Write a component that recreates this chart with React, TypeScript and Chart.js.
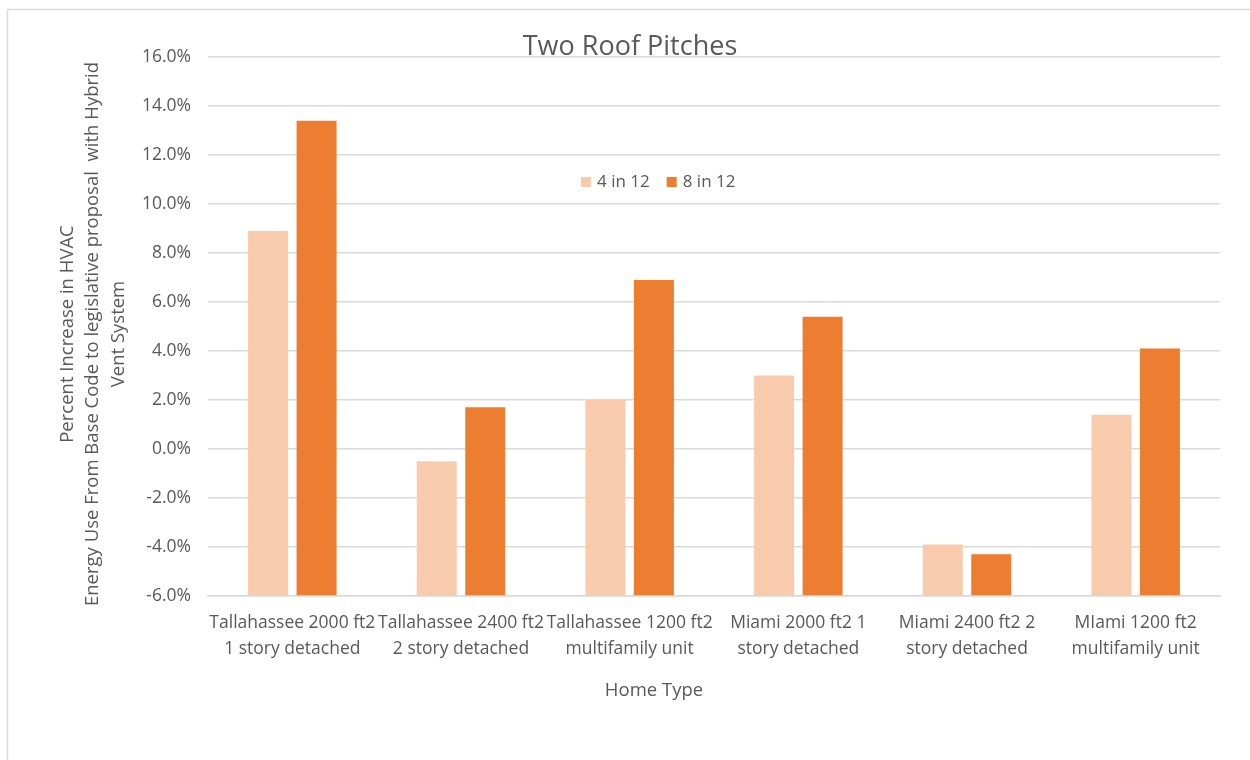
import { useEffect, useRef } from "react";
import { Chart, registerables } from "chart.js";

Chart.register(...registerables);

// Home types (two-line category labels)
const categories: string[][] = [
  ["Tallahassee 2000 ft2", "1 story detached"],
  ["Tallahassee 2400 ft2", "2 story detached"],
  ["Tallahassee 1200 ft2", "multifamily unit"],
  ["Miami 2000 ft2 1", "story detached"],
  ["Miami 2400 ft2 2", "story detached"],
  ["MIami 1200 ft2", "multifamily unit"],
];

const seriesNames = ["4 in 12", "8 in 12"];

// Percent increase in HVAC energy use, per roof pitch
const pitch4in12 = [8.9, -0.5, 2.0, 3.0, -3.9, 1.4];
const pitch8in12 = [13.4, 1.7, 6.9, 5.4, -4.3, 4.1];

// Value axis range (percent); the category axis crosses at the minimum
const yMin = -6;
const yMax = 16;
const yStep = 2;

const chartTitle = "Two Roof Pitches";
const xAxisTitle = "Home Type";
const yAxisTitle = [
  "Percent Increase in HVAC",
  "Energy Use From Base Code to legislative proposal  with Hybrid",
  "Vent System",
];

const FONT = "'Open Sans', 'DejaVu Sans', sans-serif";
const TEXT = "#595959";
const GRID = "#d9d9d9";
const COLORS = ["#F8CBAD", "#ED7D31"];

// Draws the outer frame, title, in-plot legend and axis titles
const decorations = {
  id: "decorations",
  beforeDraw(chart: Chart) {
    const { ctx, width, height } = chart;
    ctx.save();
    ctx.fillStyle = "#ffffff";
    ctx.fillRect(0, 0, width, height);
    ctx.strokeStyle = GRID;
    ctx.lineWidth = 1.5;
    ctx.strokeRect(7.5, 9.5, width + 20, height + 20);
    ctx.restore();
  },
  afterDraw(chart: Chart) {
    const { ctx } = chart;
    ctx.save();
    ctx.fillStyle = TEXT;
    ctx.textBaseline = "middle";

    // chart title
    ctx.textAlign = "center";
    ctx.font = `27px ${FONT}`;
    ctx.fillText(chartTitle, 630, 47);

    // x axis title
    ctx.font = `18.5px ${FONT}`;
    ctx.fillText(xAxisTitle, 654, 691);

    // y axis title (rotated, three lines)
    ctx.save();
    ctx.translate(93, 334);
    ctx.rotate(-Math.PI / 2);
    ctx.font = `18.5px ${FONT}`;
    yAxisTitle.forEach((line, i) => {
      ctx.fillText(line, 0, (i - 1) * 25.5);
    });
    ctx.restore();

    // legend
    ctx.font = `17px ${FONT}`;
    ctx.textAlign = "left";
    let x = 581;
    const cy = 182;
    chart.data.datasets.forEach((ds: any) => {
      ctx.fillStyle = ds.backgroundColor;
      ctx.fillRect(x, cy - 5, 10, 10);
      ctx.fillStyle = TEXT;
      ctx.fillText(ds.label, x + 16, cy);
      x += 16 + ctx.measureText(ds.label).width + 17;
    });
    ctx.restore();
  },
};

export default function App() {
  const canvasRef = useRef<HTMLCanvasElement>(null);

  useEffect(() => {
    if (!canvasRef.current) return;
    const chart = new Chart(canvasRef.current, {
      type: "bar",
      data: {
        labels: categories,
        datasets: [
          {
            label: seriesNames[0],
            data: pitch4in12,
            backgroundColor: COLORS[0],
            base: yMin,
          },
          {
            label: seriesNames[1],
            data: pitch8in12,
            backgroundColor: COLORS[1],
            base: yMin,
          },
        ],
      } as any,
      options: {
        responsive: false,
        animation: false,
        events: [],
        layout: { padding: { top: 57, right: 30, bottom: 0, left: 0 } },
        datasets: {
          bar: { categoryPercentage: 0.575, barPercentage: 0.825 },
        },
        plugins: {
          legend: { display: false },
          title: { display: false },
          tooltip: { enabled: false },
        },
        scales: {
          x: {
            grid: { display: false, drawTicks: false },
            border: { display: true, color: GRID, width: 1.5 },
            ticks: {
              color: TEXT,
              font: { family: FONT, size: 17.5, lineHeight: 1.5 },
              padding: 14,
              autoSkip: false,
              maxRotation: 0,
              minRotation: 0,
            },
            afterFit: (s: any) => {
              s.height = 164;
            },
          },
          y: {
            min: yMin,
            max: yMax,
            grid: { color: GRID, lineWidth: 1.5, drawTicks: false },
            border: { display: false },
            ticks: {
              stepSize: yStep,
              color: TEXT,
              font: { family: FONT, size: 17.5 },
              padding: 17,
              callback: (v: any) => `${Number(v).toFixed(1)}%`,
            },
            afterFit: (s: any) => {
              s.width = 208;
            },
          },
        },
      },
      plugins: [decorations],
    });
    return () => chart.destroy();
  }, []);

  return (
    <div style={{ position: "absolute", left: 0, top: 0, width: 1250, height: 760 }}>
      <canvas ref={canvasRef} width={1250} height={760} />
    </div>
  );
}
